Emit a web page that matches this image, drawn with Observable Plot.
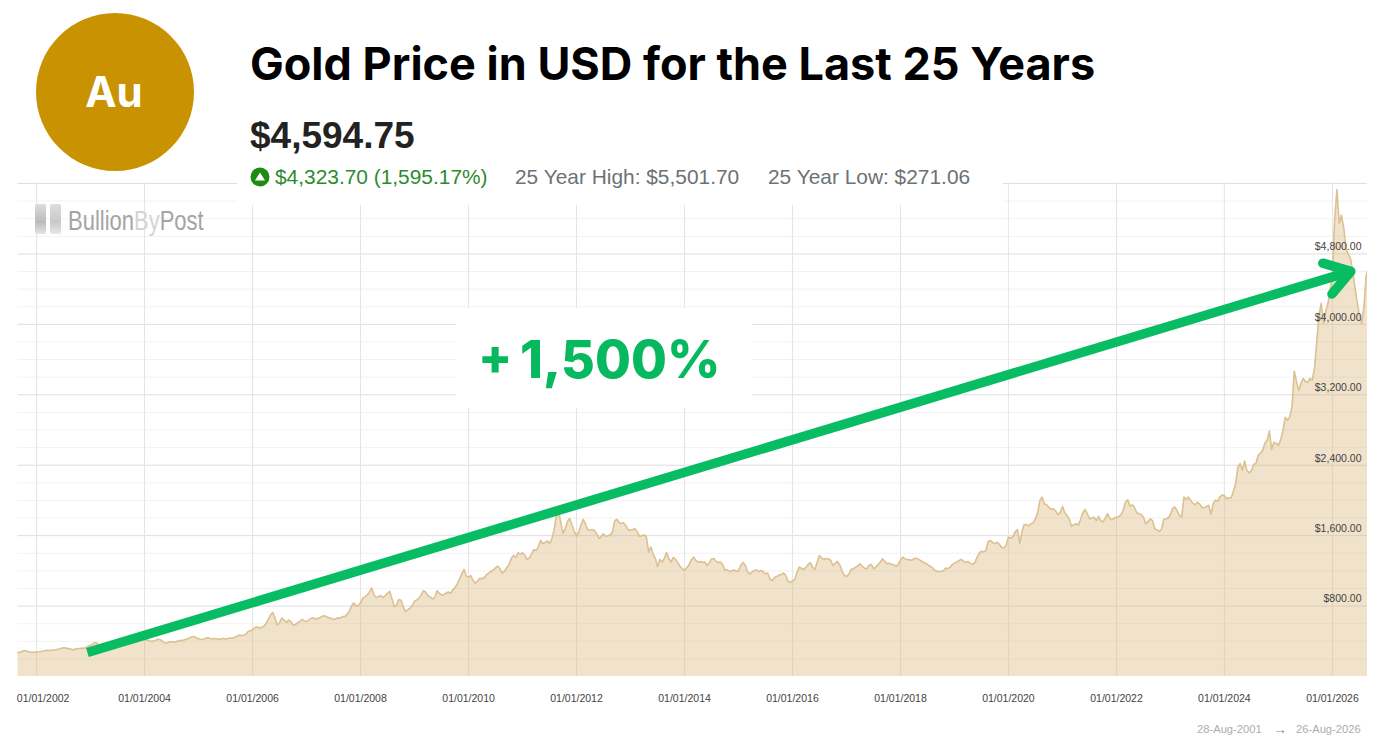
<!DOCTYPE html>
<html>
<head>
<meta charset="utf-8">
<title>Gold Price in USD for the Last 25 Years</title>
<script src="https://cdn.jsdelivr.net/npm/d3@7"></script>
<script src="https://cdn.jsdelivr.net/npm/@observablehq/plot@0.6"></script>
<style>
html,body{margin:0;padding:0;background:#fff;overflow:hidden}
#page{position:relative;width:1374px;height:740px;overflow:hidden;font-family:"Liberation Sans",Arial,sans-serif}
#chart svg{display:block}
.abs{position:absolute;white-space:nowrap;line-height:1}
</style>
</head>
<body>
<div id="page">
  <div id="chart"></div>
  <div class="abs" style="left:36px;top:13px;width:158px;height:158px;border-radius:50%;background:#c99200"></div>
  <div class="abs" style="left:35px;top:66px;width:158px;text-align:center;color:#fff;font:700 42px Inter,sans-serif">Au</div>
  <div class="abs" style="left:250px;top:36px;color:#000;font:700 45px Inter,sans-serif" id="title">Gold Price in USD for the Last 25 Years</div>
  <div class="abs" style="left:237px;top:172px;width:766px;height:33px;background:#fff"></div>
  <div class="abs" style="left:250px;top:117px;color:#222;font-weight:700;font-size:37px">$4,594.75</div>
  <svg class="abs" style="left:250px;top:167px" width="20" height="20" viewBox="0 0 20 20"><circle cx="10" cy="10" r="9.5" fill="#1f8a14"/><path d="M10 5.5 L15 13.5 L5 13.5 Z" fill="#fff"/></svg>
  <div class="abs" style="left:275px;top:167px;color:#2c8c2c;font-size:20.9px">$4,323.70 (1,595.17%)</div>
  <div class="abs" style="left:515px;top:167px;color:#6b7276;font-size:20.9px">25 Year High: $5,501.70</div>
  <div class="abs" style="left:768px;top:167px;color:#6b7276;font-size:20.9px">25 Year Low: $271.06</div>
  <div class="abs" style="left:35px;top:204px;width:11px;height:30px;background:linear-gradient(#ddd,#bbb 60%,#e4e4e4);border-radius:2px"></div>
  <div class="abs" style="left:50px;top:204px;width:11px;height:30px;background:linear-gradient(#ddd,#c8c8c8 60%,#e8e8e8);border-radius:2px"></div>
  <div class="abs" style="left:68px;top:207px;font-size:28px;color:#a4a4a4;transform:scaleX(.785);transform-origin:left top;font-family:'Liberation Sans'">Bullion<span style="color:#d4d4d4">By</span>Post</div>
  <div class="abs" style="left:456px;top:308px;width:296px;height:100px;background:#fff"></div>
  <div class="abs" style="left:478px;top:326px;color:#06b85e;font:800 50px Inter,sans-serif">+</div>
  <div class="abs" style="left:520px;top:328px;color:#06b85e;font:800 52px Inter,sans-serif">1,500%</div>
  <div class="abs" style="left:1197px;top:724px;color:#adadad;font-size:11.2px">28-Aug-2001</div>
  <div class="abs" style="left:1273px;top:722px;color:#8f8f8f;font-size:14px">→</div>
  <div class="abs" style="left:1296px;top:724px;color:#adadad;font-size:11.2px">26-Aug-2026</div>
</div>
<script>
// Half-monthly gold prices (USD per oz)
const p2001 = [274,272,278,292,294,285,278,276,275];
const p2002 = [279,281,284,290,296,298,295,298,301,306,312,320,326,322,318,312,305,308,316,318,320,322,330,345];
const p2003 = [352,368,386,378,355,345,330,328,333,338,362,354,345,352,360,372,382,378,372,384,390,398,408,416];
const p2004 = [420,414,408,398,402,412,424,418,398,380,384,392,398,390,396,404,410,408,420,426,438,448,454,440];
const p2005 = [428,420,424,432,442,432,428,432,428,422,425,434,426,432,438,434,446,456,470,466,468,480,512,520];
const p2006 = [530,556,562,552,556,572,600,650,700,726,660,585,610,665,640,615,640,625,585,590,610,625,648,630];
const p2007 = [626,640,660,668,650,660,670,685,690,675,668,660,648,655,668,662,682,680,705,735,800,835,800,805];
const p2008 = [835,890,905,925,960,1003,925,898,905,920,895,915,945,966,880,795,810,875,865,790,735,760,775,805];
const p2009 = [855,870,890,930,975,955,915,905,880,900,975,945,925,930,945,960,945,985,1010,1055,1110,1165,1216,1140];
const p2010 = [1128,1145,1090,1060,1085,1115,1110,1125,1155,1175,1195,1210,1235,1255,1225,1170,1200,1235,1270,1340,1375,1352,1405,1390];
const p2011 = [1405,1380,1330,1345,1390,1443,1430,1470,1545,1510,1520,1540,1510,1560,1660,1820,1880,1750,1625,1680,1760,1795,1716,1650];
const p2012 = [1591,1640,1720,1784,1730,1670,1665,1670,1659,1620,1568,1590,1620,1590,1600,1610,1640,1770,1784,1750,1739,1745,1710,1665];
const p2013 = [1665,1670,1680,1640,1591,1600,1610,1590,1412,1470,1390,1340,1250,1330,1300,1340,1409,1340,1300,1350,1330,1290,1250,1225];
const p2014 = [1205,1235,1270,1320,1356,1320,1300,1305,1295,1300,1261,1290,1335,1340,1310,1295,1300,1270,1205,1215,1190,1200,1210,1195];
const p2015 = [1200,1260,1295,1265,1190,1165,1185,1205,1210,1190,1205,1190,1165,1175,1105,1090,1125,1135,1150,1160,1175,1150,1080,1070];
const p2016 = [1085,1100,1180,1242,1230,1215,1240,1270,1295,1240,1216,1300,1375,1345,1330,1340,1335,1320,1261,1285,1307,1270,1200,1150];
const p2017 = [1136,1160,1215,1224,1240,1255,1280,1250,1230,1225,1260,1273,1224,1240,1270,1300,1337,1305,1280,1285,1275,1270,1250,1275];
const p2018 = [1320,1356,1335,1330,1325,1320,1340,1344,1330,1315,1300,1290,1270,1255,1240,1210,1197,1190,1195,1198,1231,1225,1240,1270];
const p2019 = [1288,1300,1315,1330,1310,1295,1305,1285,1275,1290,1350,1400,1424,1415,1430,1530,1545,1520,1510,1525,1500,1465,1462,1490];
const p2020 = [1583,1570,1590,1640,1670,1508,1640,1727,1725,1710,1735,1745,1790,1860,2000,2037,1960,1950,1920,1900,1905,1880,1840,1860];
const p2021 = [1932,1860,1830,1790,1705,1725,1735,1720,1780,1860,1895,1850,1790,1800,1810,1770,1818,1770,1755,1800,1850,1795,1780,1800];
const p2022 = [1810,1815,1835,1890,1980,2008,1935,1950,1920,1860,1850,1840,1810,1735,1760,1790,1770,1680,1665,1648,1670,1784,1790,1800];
const p2023 = [1840,1910,1925,1880,1830,1810,2037,2010,2037,2000,1966,1950,1980,1960,1920,1915,1930,1945,1841,1960,2005,1990,2040,2060];
const p2024 = [2055,2020,2030,2030,2100,2190,2380,2417,2341,2447,2340,2313,2335,2409,2420,2511,2534,2570,2650,2682,2787,2580,2659,2650];
const p2025 = [2625,2690,2795,2943,2910,2950,3060,3466,3350,3250,3330,3386,3350,3340,3386,3364,3500,3800,4100,4239,4011,4150,4239,4400];
const p2026 = [4550,5200,5530,5148,5239,5100,4870,4800,4750,4600,4420,4250,4100,4011,4200,4550,4650];

const seriesByYear = [
  [2001,15,p2001],[2002,0,p2002],[2003,0,p2003],[2004,0,p2004],[2005,0,p2005],[2006,0,p2006],
  [2007,0,p2007],[2008,0,p2008],[2009,0,p2009],[2010,0,p2010],[2011,0,p2011],[2012,0,p2012],
  [2013,0,p2013],[2014,0,p2014],[2015,0,p2015],[2016,0,p2016],[2017,0,p2017],[2018,0,p2018],
  [2019,0,p2019],[2020,0,p2020],[2021,0,p2021],[2022,0,p2022],[2023,0,p2023],[2024,0,p2024],
  [2025,0,p2025],[2026,0,p2026]
];

const tickYears = [2002,2004,2006,2008,2010,2012,2014,2016,2018,2020,2022,2024,2026];
const majorPrices = [800,1600,2400,3200,4000,4800,5600];
const minorPrices = [200,400,600,1000,1200,1400,1800,2000,2200,2600,2800,3000,3400,3600,3800,4200,4400,4600,5000,5200,5400];
const labelPrices = [800,1600,2400,3200,4000,4800];
const rangeStart = "2001-08-28";
const rangeEnd = "2026-08-26";

// Annotation arrow, in data units (decimal year, price)
const arrowYears = [2002.94, 2026.34];
const arrowPrices = [273, 4602];
const headYears = [2025.82, 2026.34, 2025.99];
const headPrices = [4695, 4602, 4345];

const fromYear = y => { const f = Math.floor(y); return new Date(Date.UTC(f,0,1) + (y-f)*365.25*864e5); };
const data = seriesByYear.flatMap(([year,start,vals]) =>
  vals.map((price,i) => ({date: fromYear(year + (start+i)/24), price})));
const ticks = tickYears.map(y => new Date(Date.UTC(y,0,1)));
const fmt = d3.utcFormat("%m/%d/%Y");
const money = d3.format("$,.2f");
const domainX = [new Date(rangeStart), new Date(rangeEnd)];

const chart = Plot.plot({
  width: 1374, height: 740,
  marginLeft: 17.5, marginRight: 7, marginTop: 183, marginBottom: 64,
  style: {fontFamily: "Liberation Sans, Arial, sans-serif", background: "transparent"},
  x: {type: "utc", domain: domainX},
  y: {domain: [0,5600], axis: null},
  marks: [
    Plot.ruleY(minorPrices, {stroke:"#f2f2f2", strokeWidth:1}),
    Plot.ruleY(majorPrices, {stroke:"#dedede", strokeWidth:1}),
    Plot.ruleX(ticks, {stroke:"#e4e4e4", strokeWidth:1}),
    Plot.areaY(data, {x:"date", y:"price", fill:"#d9b77c", fillOpacity:0.4, clip:true}),
    Plot.lineY(data, {x:"date", y:"price", stroke:"#dcc193", strokeWidth:1.6, clip:true}),
    Plot.text(labelPrices, {x:()=>domainX[1], y:d=>d, text:d=>money(d), textAnchor:"end", dx:-6, dy:-7, fontSize:10.5, fill:"#444"}),
    Plot.axisX(ticks.slice(1), {tickSize:0, tickPadding:18, tickFormat:fmt, fontSize:10.5, color:"#444", label:null}),
    Plot.axisX(ticks.slice(0,1), {tickSize:0, tickPadding:18, tickFormat:fmt, fontSize:10.5, color:"#444", label:null, dx:6.5}),
    Plot.line(arrowYears.map((y,i)=>({d:fromYear(y),p:arrowPrices[i]})), {x:"d", y:"p", stroke:"#07bc62", strokeWidth:9.5, strokeLinecap:"butt"}),
    Plot.line(headYears.map((y,i)=>({d:fromYear(y),p:headPrices[i]})), {x:"d", y:"p", stroke:"#07bc62", strokeWidth:9.5, strokeLinecap:"round", strokeLinejoin:"round"})
  ]
});
document.getElementById("chart").appendChild(chart);
</script>
</body>
</html>
